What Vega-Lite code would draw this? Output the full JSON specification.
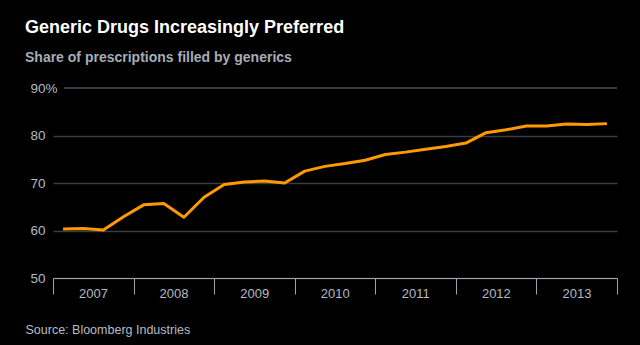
{
  "$schema": "https://vega.github.io/schema/vega-lite/v6.json",
  "width": 564,
  "height": 190,
  "autosize": "none",
  "padding": {"left": 53, "top": 88, "right": 23, "bottom": 67},
  "background": "#000000",
  "config": {"view": {"stroke": null}, "font": "Liberation Sans"},
  "title": {
    "text": "Generic Drugs Increasingly Preferred",
    "subtitle": "Share of prescriptions filled by generics",
    "anchor": "start",
    "frame": "group",
    "dx": -28,
    "fontSize": 18,
    "fontWeight": "bold",
    "color": "#ffffff",
    "subtitleFontSize": 14,
    "subtitleFontWeight": "bold",
    "subtitleColor": "#a7adb7",
    "subtitlePadding": 14,
    "offset": 16
  },
  "data": {
    "values": [
      {"t": 2007.125, "share": 60.3},
      {"t": 2007.375, "share": 60.4},
      {"t": 2007.625, "share": 60.1},
      {"t": 2007.875, "share": 62.9},
      {"t": 2008.125, "share": 65.4},
      {"t": 2008.375, "share": 65.7},
      {"t": 2008.625, "share": 62.8},
      {"t": 2008.875, "share": 67.0},
      {"t": 2009.125, "share": 69.7},
      {"t": 2009.375, "share": 70.2},
      {"t": 2009.625, "share": 70.4},
      {"t": 2009.875, "share": 70.0},
      {"t": 2010.125, "share": 72.5},
      {"t": 2010.375, "share": 73.5},
      {"t": 2010.625, "share": 74.1},
      {"t": 2010.875, "share": 74.8},
      {"t": 2011.125, "share": 76.0},
      {"t": 2011.375, "share": 76.5},
      {"t": 2011.625, "share": 77.1},
      {"t": 2011.875, "share": 77.7},
      {"t": 2012.125, "share": 78.4},
      {"t": 2012.375, "share": 80.6},
      {"t": 2012.625, "share": 81.2},
      {"t": 2012.875, "share": 82.0},
      {"t": 2013.125, "share": 82.0},
      {"t": 2013.375, "share": 82.4},
      {"t": 2013.625, "share": 82.3},
      {"t": 2013.875, "share": 82.5}
    ]
  },
  "layer": [
    {
      "mark": {"type": "line", "color": "#ff9900", "strokeWidth": 3, "strokeJoin": "round"},
      "encoding": {
        "x": {
          "field": "t",
          "type": "quantitative",
          "scale": {"domain": [2007, 2014], "nice": false, "zero": false},
          "axis": {
            "values": [2007, 2007.25, 2007.5, 2007.75, 2008, 2008.25, 2008.5, 2008.75, 2009, 2009.25, 2009.5, 2009.75, 2010, 2010.25, 2010.5, 2010.75, 2011, 2011.25, 2011.5, 2011.75, 2012, 2012.25, 2012.5, 2012.75, 2013, 2013.25, 2013.5, 2013.75, 2014],
            "format": "d",
            "labelExpr": "datum.value % 1 === 0 && datum.value < 2014 ? datum.label : ''",
            "tickSize": {"condition": {"test": "datum.value % 1 === 0", "value": 16}, "value": 5},
            "labelOffset": 40,
            "labelPadding": -0.5,
            "labelBaseline": "middle",
            "grid": false,
            "domainColor": "#9ea2a9",
            "tickColor": "#9ea2a9",
            "labelColor": "#b5b9c0",
            "labelFontSize": 13,
            "labelOverlap": false,
            "labelFlush": false,
            "labelBound": false,
            "title": "Source: Bloomberg Industries",
            "titleX": -28,
            "titleY": 51,
            "titleAlign": "left",
            "titleBaseline": "middle",
            "titleFontSize": 12.5,
            "titleFontWeight": "normal",
            "titleColor": "#b8bcc4"
          }
        },
        "y": {
          "field": "share",
          "type": "quantitative",
          "scale": {"domain": [50, 90], "nice": false, "zero": false},
          "axis": {
            "values": [50, 60, 70, 80, 90],
            "labelExpr": "datum.value === 90 ? '90%' : datum.label",
            "domain": false,
            "ticks": false,
            "labelAlign": "left",
            "labelPadding": 23,
            "labelBaseline": "middle",
            "labelFontSize": 13.5,
            "labelColor": "#b5b9c0",
            "gridColor": "#3a3d43",
            "gridWidth": 1.5,
            "gridOpacity": {"condition": {"test": "datum.value === 90", "value": 0}, "value": 1},
            "title": null
          }
        }
      }
    },
    {
      "mark": {"type": "rule", "color": "#3a3d43", "strokeWidth": 1.5},
      "encoding": {
        "x": {"datum": 2007.14},
        "x2": {"datum": 2014},
        "y": {"datum": 90}
      }
    }
  ]
}
